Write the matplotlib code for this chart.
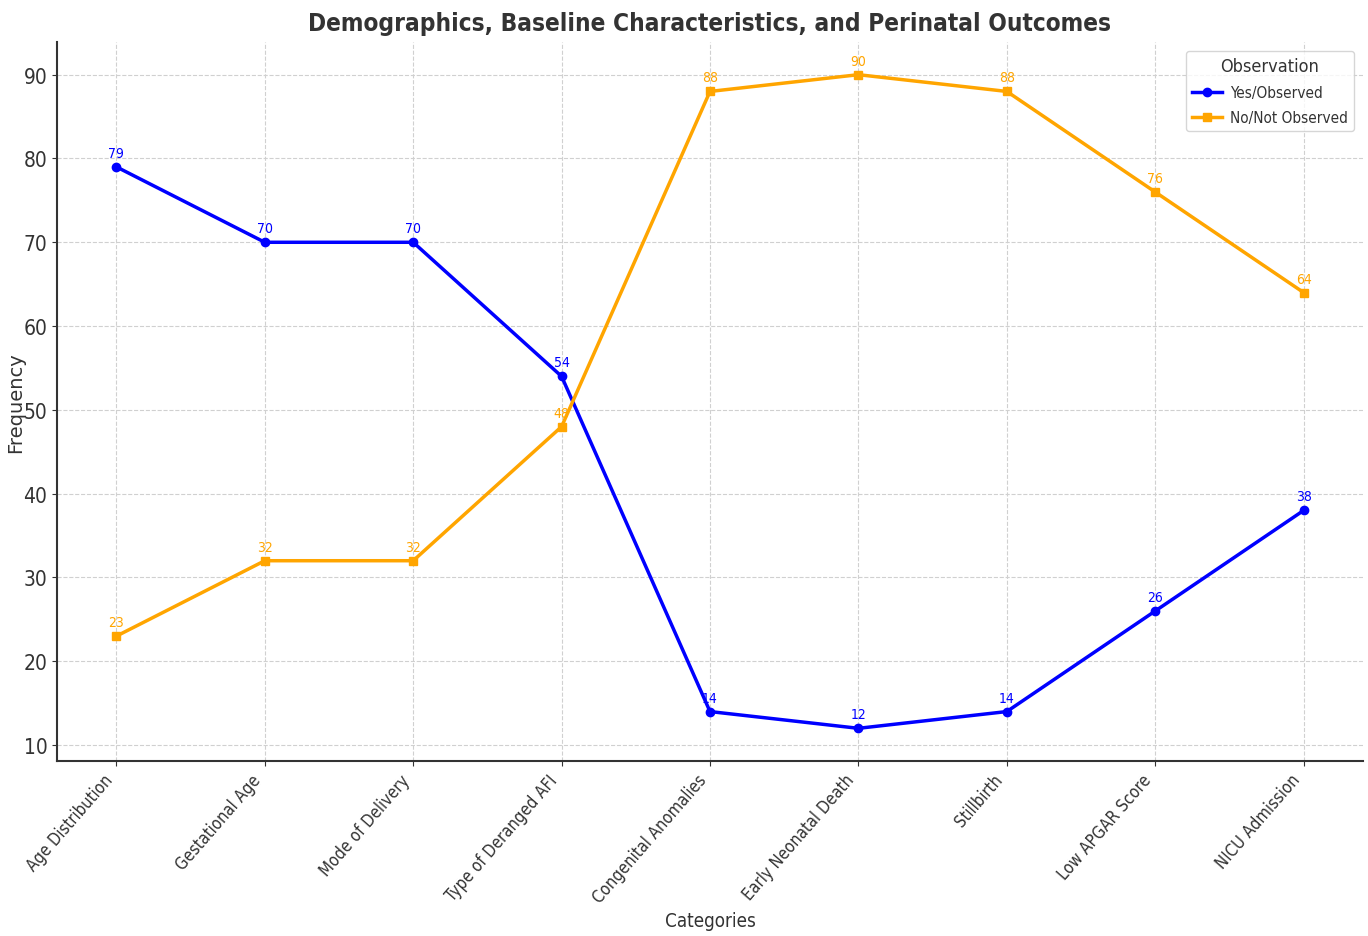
import matplotlib
matplotlib.use("Agg")
import matplotlib.pyplot as plt

categories = ["Age Distribution", "Gestational Age", "Mode of Delivery", "Type of Deranged AFI",
              "Congenital Anomalies", "Early Neonatal Death", "Stillbirth", "Low APGAR Score",
              "NICU Admission"]
yes_vals = [79, 70, 70, 54, 14, 12, 14, 26, 38]
no_vals = [23, 32, 32, 48, 88, 90, 88, 76, 64]

plt.rcParams['font.family'] = ['DejaVu Sans']
plt.rcParams['font.stretch'] = 'condensed'

fig = plt.figure(figsize=(13.68, 9.37), dpi=100)
ax = fig.add_axes([57/1368, 1-762/937, (1363-57)/1368, (762-43)/937])

x = list(range(len(categories)))
ax.plot(x, yes_vals, color='blue', marker='o', lw=2.5, ms=6, label='Yes/Observed')
ax.plot(x, no_vals, color='orange', marker='s', lw=2.5, ms=6, label='No/Not Observed')
for xi, v in zip(x, yes_vals):
    ax.annotate(str(v), (xi, v), textcoords='offset points', xytext=(0, 5), ha='center',
                va='bottom', color='blue', fontsize=10)
for xi, v in zip(x, no_vals):
    ax.annotate(str(v), (xi, v), textcoords='offset points', xytext=(0, 5), ha='center',
                va='bottom', color='orange', fontsize=10)

ax.set_xticks(x)
ax.set_xticklabels(categories, rotation=49, ha='right', fontsize=12, color='#333333')
ax.tick_params(axis='y', labelsize=15, labelcolor='#333333', colors='#333333')
ax.tick_params(axis='x', colors='#333333')
ax.set_title("Demographics, Baseline Characteristics, and Perinatal Outcomes",
             fontsize=17.5, fontweight='bold', color='#333333', pad=9)
ax.set_xlabel("Categories", fontsize=13.5, color='#333333')
ax.xaxis.set_label_coords(0.5, (762 - 912) / 719)
ax.set_ylabel("Frequency", fontsize=14, color='#333333', fontstretch='normal')
ax.yaxis.set_label_coords((25 - 57) / 1306, 0.5)
ax.grid(True, linestyle='--', color='#d0d0d0', lw=0.8)
for s in ['top', 'right']:
    ax.spines[s].set_visible(False)
for s in ['left', 'bottom']:
    ax.spines[s].set_color('#333333')
    ax.spines[s].set_linewidth(1.5)
leg = ax.legend(title='Observation', loc='upper right', fontsize=11, title_fontsize=13,
                labelspacing=0.65, handlelength=2.0, handletextpad=0.5,
                borderaxespad=0.6)
leg.get_title().set_color('#333333')
for t in leg.get_texts():
    t.set_color('#333333')
fig.savefig('out.png', dpi=100)
